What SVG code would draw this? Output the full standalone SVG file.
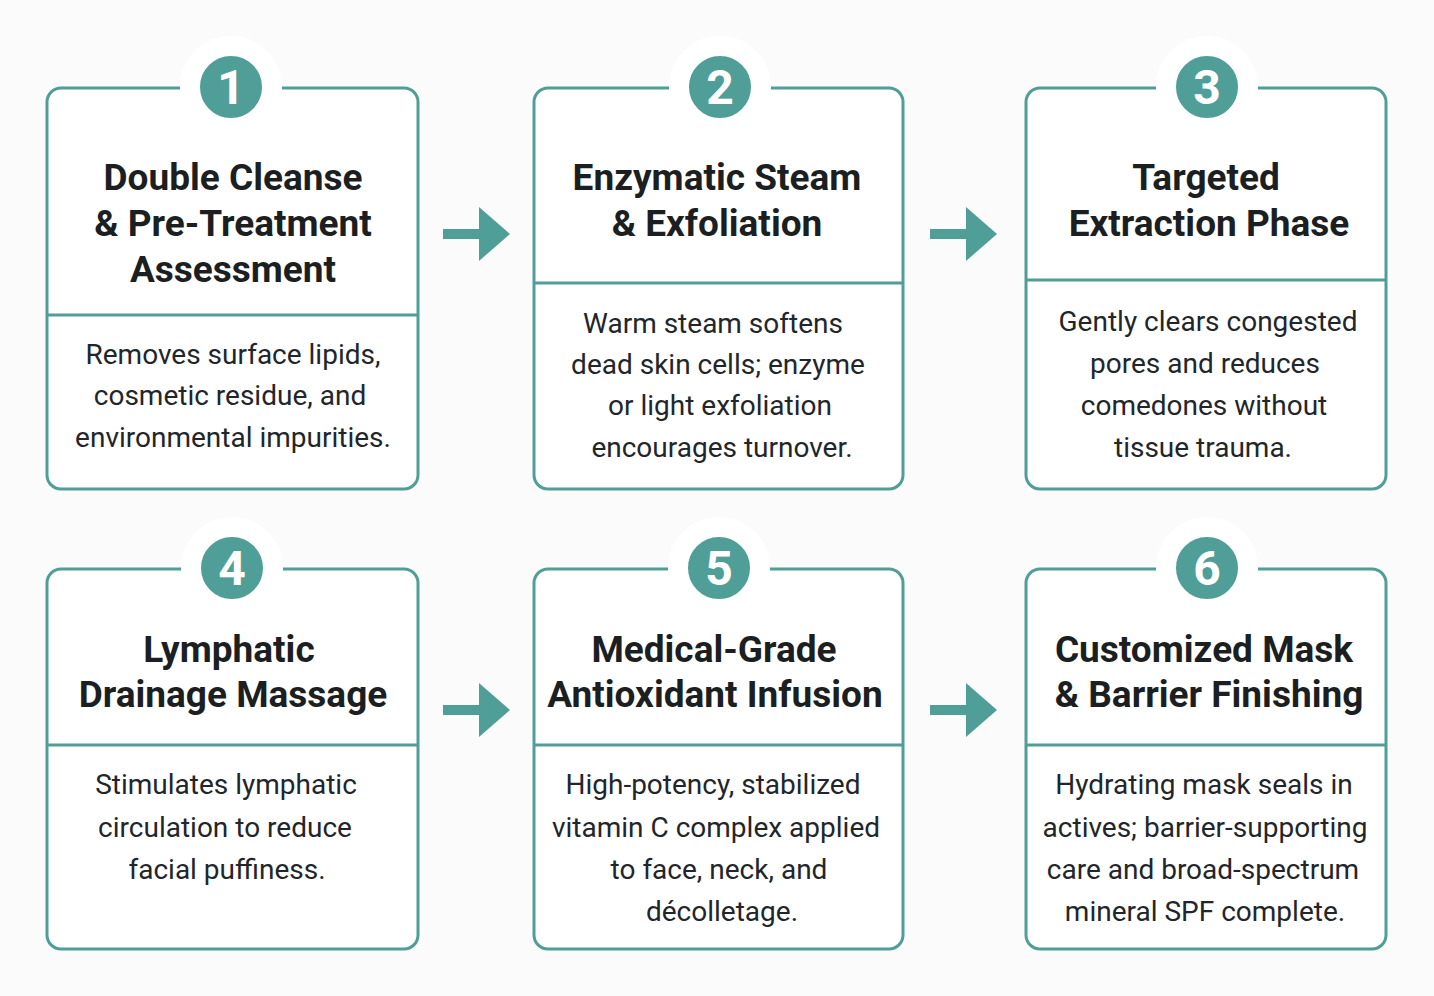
<svg xmlns="http://www.w3.org/2000/svg" width="1434" height="996" viewBox="0 0 1434 996">
<style>
.card{fill:#fff;stroke:#4f9f98;stroke-width:3}
.div{stroke:#4f9f98;stroke-width:3}
.num{fill:#4f9f98;stroke:#fff;stroke-width:20}
.nt{font-family:Roboto,"Liberation Sans",sans-serif;font-weight:700;font-size:48px;fill:#fff;text-anchor:middle}
.t{font-family:Roboto,"Liberation Sans",sans-serif;font-weight:700;font-size:37px;fill:#1c1f22;text-anchor:middle}
.b{font-family:Roboto,"Liberation Sans",sans-serif;font-size:28px;fill:#22262a;text-anchor:middle}
.arr{fill:#4f9f98}
</style>
<rect width="1434" height="996" fill="#fbfbfb"/>
<g id="n1"><rect class="card" x="47" y="88" width="371" height="401" rx="14"/><line class="div" x1="47" y1="315" x2="418" y2="315"/><circle class="num" cx="231" cy="87" r="41"/><text class="nt" x="231" y="104">1</text>
<text class="t" x="233" y="190">Double Cleanse</text><text class="t" x="233" y="236">&amp; Pre-Treatment</text><text class="t" x="233" y="282">Assessment</text>
<text class="b" x="233" y="364">Removes surface lipids,</text><text class="b" x="230" y="405">cosmetic residue, and</text><text class="b" x="233" y="447">environmental impurities.</text></g>
<g id="n2"><rect class="card" x="534" y="88" width="369" height="401" rx="14"/><line class="div" x1="534" y1="283" x2="903" y2="283"/><circle class="num" cx="720" cy="87" r="41"/><text class="nt" x="720" y="104">2</text>
<text class="t" x="717" y="190">Enzymatic Steam</text><text class="t" x="717" y="236">&amp; Exfoliation</text>
<text class="b" x="713" y="333">Warm steam softens</text><text class="b" x="718" y="374">dead skin cells; enzyme</text><text class="b" x="720" y="415">or light exfoliation</text><text class="b" x="722" y="457">encourages turnover.</text></g>
<g id="n3"><rect class="card" x="1026" y="88" width="360" height="401" rx="14"/><line class="div" x1="1026" y1="280" x2="1386" y2="280"/><circle class="num" cx="1207" cy="87" r="41"/><text class="nt" x="1207" y="104">3</text>
<text class="t" x="1206" y="190">Targeted</text><text class="t" x="1209" y="236">Extraction Phase</text>
<text class="b" x="1208" y="331">Gently clears congested</text><text class="b" x="1205" y="373">pores and reduces</text><text class="b" x="1204" y="415">comedones without</text><text class="b" x="1203" y="457">tissue trauma.</text></g>
<g id="n4"><rect class="card" x="47" y="569" width="371" height="380" rx="14"/><line class="div" x1="47" y1="745" x2="418" y2="745"/><circle class="num" cx="232" cy="568" r="41"/><text class="nt" x="232" y="585">4</text>
<text class="t" x="229" y="662">Lymphatic</text><text class="t" x="233" y="707">Drainage Massage</text>
<text class="b" x="226" y="794">Stimulates lymphatic</text><text class="b" x="225" y="837">circulation to reduce</text><text class="b" x="227" y="879">facial puffiness.</text></g>
<g id="n5"><rect class="card" x="534" y="569" width="369" height="380" rx="14"/><line class="div" x1="534" y1="745" x2="903" y2="745"/><circle class="num" cx="719" cy="568" r="41"/><text class="nt" x="719" y="585">5</text>
<text class="t" x="714" y="662">Medical-Grade</text><text class="t" x="715" y="707">Antioxidant Infusion</text>
<text class="b" x="713" y="794">High-potency, stabilized</text><text class="b" x="716" y="837">vitamin C complex applied</text><text class="b" x="719" y="879">to face, neck, and</text><text class="b" x="722" y="921">décolletage.</text></g>
<g id="n6"><rect class="card" x="1026" y="569" width="360" height="380" rx="14"/><line class="div" x1="1026" y1="745" x2="1386" y2="745"/><circle class="num" cx="1207" cy="568" r="41"/><text class="nt" x="1207" y="585">6</text>
<text class="t" x="1204" y="662">Customized Mask</text><text class="t" x="1209" y="707">&amp; Barrier Finishing</text>
<text class="b" x="1204" y="794">Hydrating mask seals in</text><text class="b" x="1205" y="837">actives; barrier-supporting</text><text class="b" x="1203" y="879">care and broad-spectrum</text><text class="b" x="1205" y="921">mineral SPF complete.</text></g>
<g id="connectors">
<path class="arr" d="M443 229h36v-22l31 27l-31 27v-22h-36z"/>
<path class="arr" d="M930 229h36v-22l31 27l-31 27v-22h-36z"/>
<path class="arr" d="M443 705h36v-22l31 27l-31 27v-22h-36z"/>
<path class="arr" d="M930 705h36v-22l31 27l-31 27v-22h-36z"/>
</g>
</svg>
